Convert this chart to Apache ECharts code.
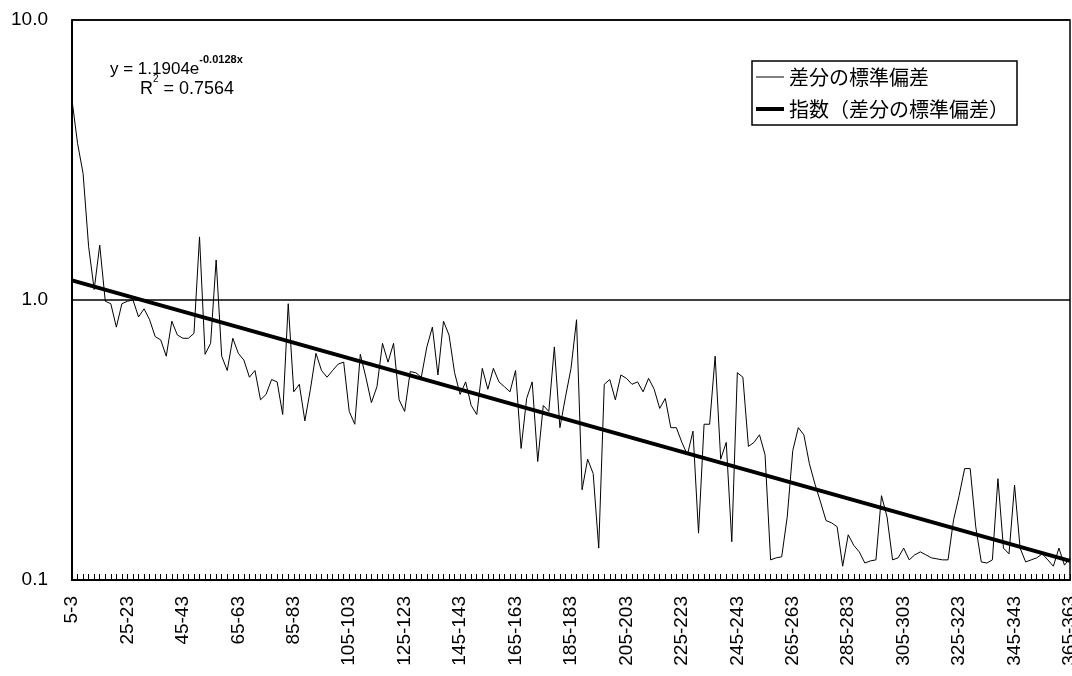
<!DOCTYPE html>
<html>
<head>
<meta charset="utf-8">
<script src="https://cdn.jsdelivr.net/npm/echarts@6/dist/echarts.min.js"></script>
<style>
html,body{margin:0;padding:0;background:#fff;}
#chart{width:1072px;height:676px;}
</style>
</head>
<body>
<div id="chart"></div>
<script>
const categories = [
"5-3","7-5","9-7","11-9","13-11","15-13","17-15","19-17","21-19","23-21",
"25-23","27-25","29-27","31-29","33-31","35-33","37-35","39-37","41-39","43-41",
"45-43","47-45","49-47","51-49","53-51","55-53","57-55","59-57","61-59","63-61",
"65-63","67-65","69-67","71-69","73-71","75-73","77-75","79-77","81-79","83-81",
"85-83","87-85","89-87","91-89","93-91","95-93","97-95","99-97","101-99","103-101",
"105-103","107-105","109-107","111-109","113-111","115-113","117-115","119-117","121-119","123-121",
"125-123","127-125","129-127","131-129","133-131","135-133","137-135","139-137","141-139","143-141",
"145-143","147-145","149-147","151-149","153-151","155-153","157-155","159-157","161-159","163-161",
"165-163","167-165","169-167","171-169","173-171","175-173","177-175","179-177","181-179","183-181",
"185-183","187-185","189-187","191-189","193-191","195-193","197-195","199-197","201-199","203-201",
"205-203","207-205","209-207","211-209","213-211","215-213","217-215","219-217","221-219","223-221",
"225-223","227-225","229-227","231-229","233-231","235-233","237-235","239-237","241-239","243-241",
"245-243","247-245","249-247","251-249","253-251","255-253","257-255","259-257","261-259","263-261",
"265-263","267-265","269-267","271-269","273-271","275-273","277-275","279-277","281-279","283-281",
"285-283","287-285","289-287","291-289","293-291","295-293","297-295","299-297","301-299","303-301",
"305-303","307-305","309-307","311-309","313-311","315-313","317-315","319-317","321-319","323-321",
"325-323","327-325","329-327","331-329","333-331","335-333","337-335","339-337","341-339","343-341",
"345-343","347-345","349-347","351-349","353-351","355-353","357-355","359-357","361-359","363-361",
"365-363"
];

const stdDiff = [
5.18,3.63,2.83,1.55,1.09,1.57,0.99,0.97,0.80,0.97,
0.99,1.00,0.87,0.93,0.85,0.74,0.72,0.63,0.84,0.75,
0.73,0.73,0.76,1.68,0.64,0.70,1.39,0.63,0.56,0.73,
0.645,0.61,0.53,0.56,0.44,0.46,0.52,0.51,0.39,0.97,
0.47,0.50,0.37,0.48,0.645,0.56,0.53,0.56,0.59,0.60,
0.40,0.36,0.64,0.53,0.43,0.49,0.70,0.60,0.70,0.44,
0.40,0.555,0.55,0.53,0.68,0.80,0.54,0.84,0.75,0.55,
0.46,0.51,0.42,0.39,0.57,0.48,0.57,0.51,0.49,0.47,
0.56,0.295,0.445,0.51,0.265,0.42,0.40,0.68,0.35,0.45,
0.57,0.85,0.21,0.27,0.24,0.13,0.50,0.52,0.44,0.54,
0.525,0.50,0.51,0.47,0.525,0.48,0.41,0.445,0.35,0.35,
0.31,0.28,0.34,0.147,0.36,0.36,0.63,0.27,0.31,0.137,
0.55,0.53,0.30,0.31,0.33,0.28,0.118,0.12,0.121,0.168,
0.29,0.35,0.33,0.26,0.22,0.19,0.163,0.16,0.155,0.112,
0.145,0.133,0.126,0.115,0.117,0.118,0.20,0.168,0.118,0.12,
0.13,0.118,0.123,0.126,0.123,0.12,0.119,0.118,0.118,0.164,
0.20,0.25,0.25,0.155,0.116,0.115,0.118,0.23,0.13,0.124,
0.218,0.13,0.116,0.118,0.12,0.124,0.118,0.112,0.13,0.113,
0.12
];

// trend line end values (exponential trend is straight on log axis)
const trendStart = 1.175;
const trendEnd = 0.117;

const seriesNames = ["差分の標準偏差", "指数（差分の標準偏差）"];
const equationText = "y = 1.1904e";
const equationExp = "-0.0128x";
const r2Text = " = 0.7564";

const chart = echarts.init(document.getElementById('chart'), null, {renderer: 'canvas'});
const FONT = '"Liberation Sans", Arial, sans-serif';
const CJK = '"Noto Sans CJK JP", "Noto Sans", sans-serif';

chart.setOption({
  animation: false,
  backgroundColor: '#fff',
  grid: {left: 72, right: 2, top: 20, bottom: 96, show: true, borderColor: '#000', borderWidth: 1.5,
         backgroundColor: 'transparent', outerBoundsMode: 'none', containLabel: false},
  legend: {
    orient: 'vertical', left: 752, top: 61,
    padding: [6, 8, 6, 4],
    borderColor: '#000', borderWidth: 1.5, backgroundColor: '#fff',
    itemWidth: 28, itemHeight: 14, itemGap: 12, symbolKeepAspect: true,
    textStyle: {fontFamily: CJK, fontSize: 20, color: '#000'},
    data: [
      {name: seriesNames[0], icon: 'path://M0,0H28V1H0Z', itemStyle: {color: '#000'}},
      {name: seriesNames[1], icon: 'path://M0,0H28V4H0Z', itemStyle: {color: '#000'}}
    ]
  },
  xAxis: {
    type: 'category', data: categories, boundaryGap: false,
    axisLine: {lineStyle: {color: '#000', width: 2}},
    axisTick: {inside: true, length: 6, interval: 0, lineStyle: {color: '#000', width: 1}},
    axisLabel: {interval: 9, rotate: 90, fontSize: 19, fontFamily: FONT, color: '#000', margin: 16, hideOverlap: false},
    splitLine: {show: false}
  },
  yAxis: {
    type: 'log', logBase: 10, min: 0.1, max: 10,
    axisLine: {show: true, lineStyle: {color: '#000', width: 2}},
    axisTick: {show: false},
    axisLabel: {fontSize: 19, fontFamily: FONT, color: '#000', margin: 24, formatter: v => Number(v).toFixed(1)},
    splitLine: {show: true, lineStyle: {color: '#000', width: 1.5}},
    minorTick: {show: false}
  },
  series: [
    {
      name: seriesNames[0], type: 'line', data: stdDiff,
      symbol: 'none', showSymbol: false,
      lineStyle: {color: '#000', width: 1},
      itemStyle: {color: '#000'}
    },
    {
      name: seriesNames[1], type: 'line',
      data: [[categories[0], trendStart], [categories[categories.length - 1], trendEnd]],
      symbol: 'none', showSymbol: false,
      lineStyle: {color: '#000', width: 4},
      itemStyle: {color: '#000'}
    }
  ],
  graphic: [
    {
      type: 'text', left: 110, top: 54,
      style: {
        text: '{m|' + equationText + '}{s|' + equationExp + '}',
        rich: {
          m: {fontSize: 17, fontFamily: FONT, fill: '#000', verticalAlign: 'bottom', lineHeight: 24},
          s: {fontSize: 11, fontFamily: FONT, fontWeight: 'bold', fill: '#000', verticalAlign: 'top', lineHeight: 24}
        }
      }
    },
    {
      type: 'text', left: 140, top: 74,
      style: {
        text: '{m|R}{s|2}{m|' + r2Text + '}',
        rich: {
          m: {fontSize: 18, fontFamily: FONT, fill: '#000', verticalAlign: 'bottom', lineHeight: 24},
          s: {fontSize: 10, fontFamily: FONT, fill: '#000', verticalAlign: 'top', lineHeight: 24}
        }
      }
    }
  ]
});
</script>
</body>
</html>
